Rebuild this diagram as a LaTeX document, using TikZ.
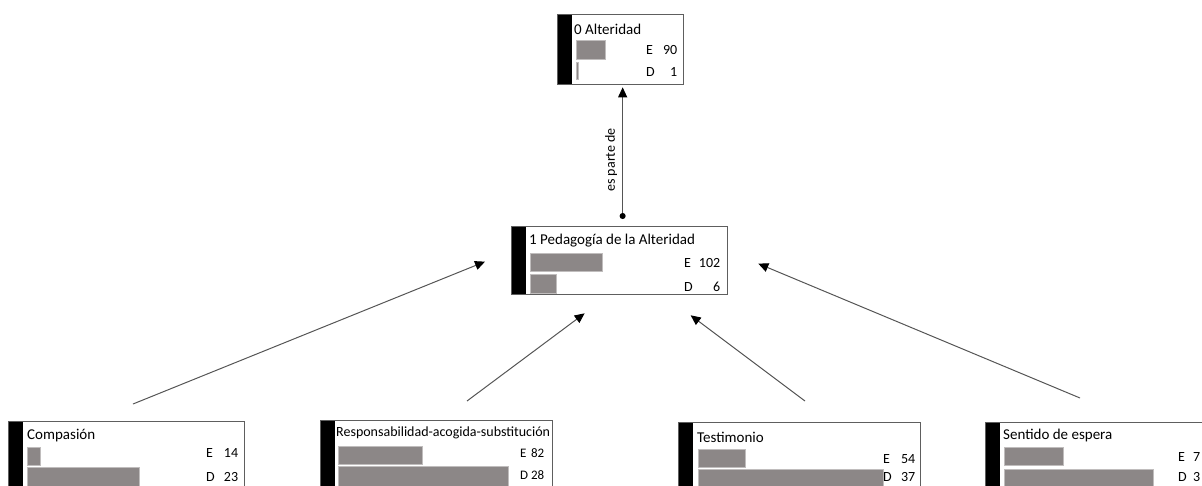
\documentclass[tikz,border=0pt]{standalone}
\usepackage{fontspec}
\setmainfont{Carlito}
\usetikzlibrary{arrows.meta,positioning,calc}
\definecolor{CodeGray}{HTML}{8C8787}
\definecolor{FrameGray}{HTML}{5E5E5E}
\definecolor{LinkGray}{HTML}{555555}

\begin{document}
\begin{tikzpicture}[
  x=1pt,y=1pt,
  frame/.style={draw=FrameGray,line width=1.3pt,fill=white,inner sep=0pt,anchor=north west,
    path picture={\fill[black] (path picture bounding box.north west) rectangle ([xshift=14pt]path picture bounding box.south west);}},
  freq/.style={fill=CodeGray,draw=CodeGray!55,line width=0.5pt,inner sep=0pt,anchor=north west},
  title/.style={font=\fontsize{15}{17}\selectfont,inner sep=0pt,anchor=west},
  count/.style={font=\fontsize{14}{16}\selectfont,inner sep=0pt,anchor=west,align=left},
  link/.style={draw=LinkGray,line width=1pt,-{Triangle[length=10pt,width=9pt,color=black]}},
  partof/.style={link,arrows={{Circle[length=6pt,color=black]}-{Triangle[length=10pt,width=9pt,color=black]}}}
]
\useasboundingbox (0,0) rectangle (1202,-485);
\clip (0,0) rectangle (1202,-485);

% code boxes
\node[frame,minimum width=126pt,minimum height=70pt] (alter) at (557,-14) {};
\node[frame,minimum width=216pt,minimum height=68pt] (peda) at (511,-226) {};
\node[frame,minimum width=236pt,minimum height=70pt] (comp) at (8,-421) {};
\node[frame,minimum width=232pt,minimum height=70pt] (resp) at (320,-420) {};
\node[frame,minimum width=242pt,minimum height=70pt] (test) at (678,-422) {};
\node[frame,minimum width=240pt,minimum height=70pt] (sent) at (985,-422) {};

% titles
\node[title] (alterT) at (574,-29) {0 Alteridad};
\node[title] (pedaT) at (529,-241) {1 Pedagogía de la Alteridad};
\node[title] (compT) at (27,-436) {Compasión};
\node[title,font=\fontsize{14}{16}\selectfont] (respT) at (336,-433) {Responsabilidad-acogida-substitución};
\node[title] (testT) at (697,-437) {Testimonio};
\node[title] (sentT) at (1003,-435) {Sentido de espera};

% frequency bars
\node[freq,minimum width=29pt,minimum height=19pt] (alterE) at (576,-40) {};
\node[freq,minimum width=2pt,minimum height=17pt] (alterD) at (576,-62) {};
\node[freq,minimum width=72pt,minimum height=18pt] (pedaE) at (530,-253) {};
\node[freq,minimum width=26pt,minimum height=19pt] (pedaD) at (530,-274) {};
\node[freq,minimum width=13pt,minimum height=18pt] (compE) at (27,-447) {};
\node[freq,minimum width=112pt,minimum height=20pt] (compD) at (27,-467) {};
\node[freq,minimum width=84pt,minimum height=18pt] (respE) at (338,-446) {};
\node[freq,minimum width=170pt,minimum height=20pt] (respD) at (338,-466) {};
\node[freq,minimum width=47pt,minimum height=18pt] (testE) at (698,-449) {};
\node[freq,minimum width=185pt,minimum height=20pt] (testD) at (698,-469) {};
\node[freq,minimum width=59pt,minimum height=18pt] (sentE) at (1004,-447) {};
\node[freq,minimum width=149pt,minimum height=20pt] (sentD) at (1004,-469) {};

% counts
\node[count,text width=31pt] (alterEn) at (646,-50) {E\hfill 90};
\node[count,text width=31pt] (alterDn) at (646,-72) {D\hfill 1};
\node[count,text width=36pt] (pedaEn) at (684,-263) {E\hfill 102};
\node[count,text width=36pt] (pedaDn) at (684,-287) {D\hfill 6};
\node[count,text width=32pt] (compEn) at (206,-453) {E\hfill 14};
\node[count,text width=32pt] (compDn) at (206,-477) {D\hfill 23};
\node[count,text width=24pt,font=\fontsize{13}{15}\selectfont] (respEn) at (520,-453) {E\hfill 82};
\node[count,text width=24pt,font=\fontsize{13}{15}\selectfont] (respDn) at (520,-475) {D\hfill 28};
\node[count,text width=32pt] (testEn) at (883,-459) {E\hfill 54};
\node[count,text width=32pt] (testDn) at (883,-477) {D\hfill 37};
\node[count,text width=22pt] (sentEn) at (1178,-457) {E\hfill 7};
\node[count,text width=22pt] (sentDn) at (1178,-477) {D\hfill 3};

% links
\draw[partof,shorten <=7pt,shorten >=2pt] ([xshift=3pt]peda.north) -- ([xshift=2pt]alter.south)
  node[pos=0.47,sloped,above,inner sep=5pt,font=\fontsize{14}{16}\selectfont] (partofL) {es parte de};
\draw[link] ([xshift=125pt,yshift=17pt]comp.north west) -- ([xshift=-26pt,yshift=-1pt]peda.west);
\draw[link] ([xshift=147pt,yshift=19pt]resp.north west) -- ([xshift=-35pt,yshift=-18pt]peda.south);
\draw[link] ([xshift=127pt,yshift=21pt]test.north west) -- ([xshift=71pt,yshift=-20pt]peda.south);
\draw[link] ([xshift=95pt,yshift=24pt]sent.north west) -- ([xshift=30pt,yshift=-3pt]peda.east);
\end{tikzpicture}
\end{document}
